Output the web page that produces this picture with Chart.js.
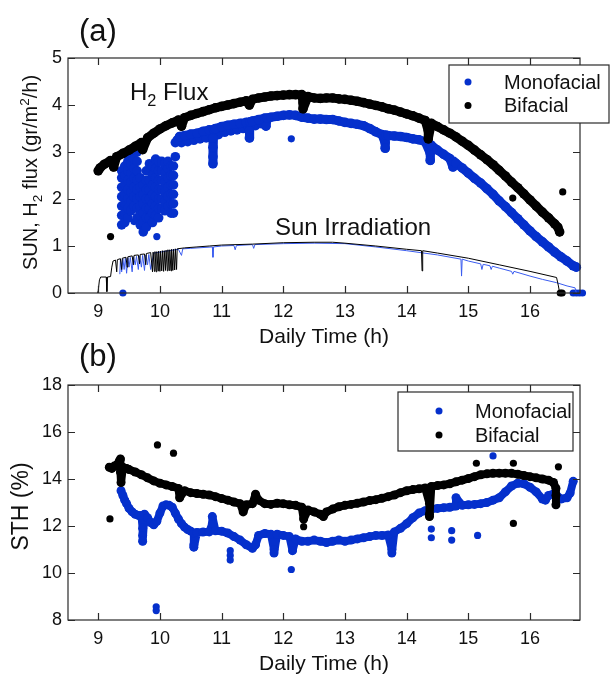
<!DOCTYPE html>
<html>
<head>
<meta charset="utf-8">
<script src="https://cdn.jsdelivr.net/npm/chart.js@4.4.1/dist/chart.umd.min.js"></script>
<style>
  html, body { margin: 0; padding: 0; background: #fff; }
  #wrap { position: relative; width: 611px; height: 675px; overflow: hidden; }
  canvas { position: absolute; left: 0; }
  #chartA { top: 0; }
  #chartB { top: 335px; }
</style>
</head>
<body>
<div id="wrap">
  <canvas id="chartA" width="611" height="350" style="width:611px;height:350px"></canvas>
  <canvas id="chartB" width="611" height="340" style="width:611px;height:340px"></canvas>
</div>
<script>
// ---- data ----
const hourTicks = [9, 10, 11, 12, 13, 14, 15, 16];
const fluxTicks = [0, 1, 2, 3, 4, 5];
const sthTicks = [8, 10, 12, 14, 16, 18];

// (a) monofacial H2 flux, noisy morning part: [hour, [values]]
const monoFluxMorning = [
  [9.38, [1.45, 1.65, 1.85, 2.05, 2.25, 2.45, 2.6]],
  [9.43, [1.5, 1.7, 1.9, 2.1, 2.3, 2.5, 2.7]],
  [9.48, [1.6, 1.8, 2.0, 2.2, 2.4, 2.6, 2.8, 2.95]],
  [9.53, [1.75, 1.95, 2.15, 2.35, 2.55, 2.75, 2.95]],
  [9.58, [1.85, 2.05, 2.25, 2.45, 2.65, 2.85, 3.05]],
  [9.63, [1.6, 1.8, 2.0, 2.2, 2.4, 2.6, 2.8, 3.0]],
  [9.68, [1.45, 1.65, 1.85, 2.05, 2.25, 2.45]],
  [9.73, [1.3, 1.5, 1.7, 1.9, 2.1, 2.3]],
  [9.78, [1.4, 1.6, 1.8, 2.0, 2.2, 2.4, 2.6]],
  [9.83, [1.6, 1.8, 2.0, 2.2, 2.4, 2.6, 2.75]],
  [9.88, [1.5, 1.7, 1.9, 2.1, 2.3, 2.5, 2.7]],
  [9.93, [1.65, 1.85, 2.05, 2.25, 2.45, 2.65, 2.85]],
  [9.98, [1.6, 1.8, 2.0, 2.2, 2.4, 2.6, 2.8]],
  [10.03, [1.8, 2.0, 2.2, 2.4, 2.6, 2.8]],
  [10.08, [1.75, 1.95, 2.15, 2.35, 2.55, 2.75]],
  [10.13, [1.85, 2.05, 2.25, 2.45, 2.65, 2.8]],
  [10.18, [1.7, 1.9, 2.1, 2.3, 2.5, 2.7]],
  [10.22, [1.7, 1.9, 2.1, 2.3, 2.5, 2.7]],
  [10.25, [2.9, 3.2]]
];

// (a) monofacial H2 flux, rest of the day [hour, value], dips kept in place
const monoFlux = [
  [10.28, 3.25], [10.32, 3.33], [10.4, 3.35], [10.5, 3.38], [10.6, 3.4], [10.7, 3.44],
  [10.8, 3.47], [10.86, 3.3], [10.86, 3.1], [10.86, 2.9], [10.86, 2.75], [10.87, 3.48],
  [10.9, 3.5], [11.0, 3.54], [11.1, 3.57], [11.2, 3.59], [11.3, 3.61], [11.4, 3.63],
  [11.45, 3.45], [11.45, 3.3], [11.46, 3.64], [11.5, 3.66], [11.6, 3.69], [11.7, 3.72],
  [11.72, 3.55], [11.74, 3.72], [11.8, 3.74], [11.9, 3.76], [12.0, 3.78], [12.1, 3.79],
  [12.2, 3.78], [12.3, 3.74], [12.4, 3.72], [12.5, 3.7], [12.6, 3.7], [12.7, 3.69],
  [12.8, 3.69], [12.9, 3.66], [13.0, 3.63], [13.1, 3.61], [13.2, 3.59], [13.3, 3.56],
  [13.4, 3.5], [13.5, 3.43], [13.6, 3.37], [13.65, 3.2], [13.65, 3.08], [13.66, 3.36],
  [13.7, 3.35], [13.8, 3.34], [13.9, 3.33], [14.0, 3.31], [14.1, 3.28], [14.2, 3.26],
  [14.3, 3.22], [14.38, 2.98], [14.38, 2.82], [14.39, 3.15], [14.4, 3.14], [14.5, 3.04],
  [14.6, 2.95], [14.7, 2.86], [14.75, 2.68], [14.76, 2.8], [14.8, 2.76], [14.9, 2.66],
  [15.0, 2.55], [15.1, 2.44], [15.2, 2.34], [15.3, 2.22], [15.4, 2.1], [15.5, 1.96],
  [15.6, 1.84], [15.7, 1.71], [15.8, 1.58], [15.9, 1.45], [16.0, 1.32], [16.1, 1.2],
  [16.2, 1.09], [16.3, 0.98], [16.4, 0.87], [16.5, 0.77], [16.6, 0.68], [16.7, 0.58],
  [16.75, 0.55]
];
// lower edge of the thick late-morning monofacial band
const monoFluxLower = [
  [10.35, 3.2], [10.45, 3.22], [10.55, 3.25], [10.65, 3.28], [10.75, 3.3], [10.95, 3.37],
  [11.05, 3.42], [11.15, 3.45], [11.25, 3.47], [11.35, 3.5], [11.55, 3.56], [11.65, 3.6]
];
const monoFluxOut = [[9.4, 0], [9.58, 1.52], [9.95, 1.2], [12.13, 3.28],
  [16.7, 0], [16.75, 0], [16.8, 0], [16.85, 0]];

// (a) bifacial H2 flux
const biFlux = [
  [9.0, 2.6], [9.03, 2.66], [9.1, 2.74], [9.2, 2.82], [9.25, 2.68], [9.3, 2.9], [9.4, 2.97],
  [9.5, 3.04], [9.6, 3.12], [9.7, 3.2], [9.72, 3.05], [9.8, 3.3], [9.9, 3.4], [10.0, 3.49],
  [10.1, 3.56], [10.2, 3.62], [10.3, 3.68], [10.35, 3.55], [10.4, 3.73], [10.5, 3.78],
  [10.6, 3.82], [10.7, 3.86], [10.8, 3.9], [10.9, 3.94], [11.0, 3.97], [11.1, 4.0],
  [11.2, 4.03], [11.3, 4.06], [11.4, 4.09], [11.45, 4.0], [11.5, 4.12], [11.6, 4.15],
  [11.7, 4.17], [11.8, 4.19], [11.9, 4.2], [12.0, 4.21], [12.1, 4.22], [12.2, 4.22],
  [12.3, 4.22], [12.32, 4.05], [12.32, 3.92], [12.4, 4.18], [12.5, 4.15], [12.6, 4.14],
  [12.7, 4.15], [12.8, 4.15], [12.9, 4.13], [13.0, 4.12], [13.1, 4.1], [13.2, 4.08],
  [13.3, 4.05], [13.4, 4.02], [13.5, 3.99], [13.6, 3.96], [13.7, 3.92], [13.8, 3.89],
  [13.9, 3.85], [14.0, 3.81], [14.1, 3.77], [14.2, 3.72], [14.3, 3.67], [14.35, 3.45],
  [14.35, 3.28], [14.4, 3.61], [14.5, 3.54], [14.6, 3.47], [14.7, 3.4], [14.8, 3.32],
  [14.9, 3.23], [15.0, 3.14], [15.1, 3.04], [15.2, 2.94], [15.3, 2.84], [15.4, 2.73],
  [15.5, 2.61], [15.6, 2.49], [15.7, 2.36], [15.8, 2.24], [15.9, 2.11], [16.0, 1.98],
  [16.1, 1.85], [16.2, 1.72], [16.3, 1.6], [16.4, 1.47], [16.45, 1.4], [16.48, 1.3]
];
const biFluxOut = [[9.2, 1.2], [15.72, 2.02], [16.53, 2.15], [16.49, 0], [16.52, 0]];

// (a) sun irradiation traces
const sunBi = [
  [8.99, 0], [9.0, 0.05], [9.02, 0.28], [9.04, 0.34], [9.13, 0.34], [9.14, 0.03], [9.15, 0.34],
  [9.2, 0.35], [9.22, 0.55], [9.24, 0.68], [9.28, 0.7], [9.3, 0.45], [9.31, 0.71], [9.36, 0.73],
  [9.38, 0.5], [9.39, 0.74], [9.45, 0.76], [9.47, 0.55], [9.48, 0.77], [9.55, 0.79], [9.57, 0.6],
  [9.58, 0.8], [9.65, 0.81], [9.67, 0.62], [9.68, 0.82], [9.75, 0.83], [9.77, 0.6], [9.78, 0.84],
  [9.85, 0.86], [9.88, 0.45], [9.89, 0.87], [9.91, 0.46], [9.92, 0.88], [9.94, 0.45], [9.95, 0.88],
  [9.97, 0.47], [9.98, 0.89], [10.0, 0.46], [10.01, 0.89], [10.03, 0.47], [10.04, 0.9],
  [10.06, 0.46], [10.07, 0.9], [10.09, 0.48], [10.1, 0.91], [10.12, 0.47], [10.13, 0.92],
  [10.15, 0.48], [10.16, 0.92], [10.18, 0.47], [10.19, 0.93], [10.21, 0.48], [10.22, 0.93],
  [10.24, 0.49], [10.25, 0.94], [10.27, 0.5], [10.28, 0.94], [10.4, 0.96], [10.6, 0.98],
  [10.8, 1.0], [11.0, 1.02], [11.5, 1.04], [12.0, 1.07], [12.5, 1.08], [12.8, 1.08],
  [13.0, 1.06], [13.5, 1.0], [14.0, 0.93], [14.24, 0.9], [14.25, 0.47], [14.26, 0.9],
  [14.5, 0.85], [15.0, 0.74], [15.5, 0.6], [16.0, 0.46], [16.43, 0.33], [16.46, 0.15], [16.48, 0]
];
const sunMono = [
  [9.35, 0.4], [9.36, 0.72], [9.38, 0.45], [9.4, 0.73], [9.42, 0.5], [9.44, 0.74], [9.46, 0.42],
  [9.48, 0.75], [9.5, 0.55], [9.52, 0.76], [9.55, 0.45], [9.57, 0.77], [9.6, 0.6], [9.62, 0.78],
  [9.65, 0.5], [9.67, 0.79], [9.7, 0.55], [9.72, 0.8], [9.75, 0.48], [9.77, 0.81], [9.8, 0.6],
  [9.82, 0.82], [9.85, 0.5], [9.9, 0.85], [10.3, 0.93], [10.35, 0.8], [10.37, 0.94], [10.5, 0.95],
  [10.85, 0.98], [10.86, 0.76], [10.87, 0.98], [11.0, 1.0], [11.2, 1.01], [11.22, 0.92],
  [11.24, 1.01], [11.5, 1.03], [11.52, 0.95], [11.54, 1.03], [12.0, 1.05], [12.5, 1.06],
  [13.0, 1.05], [13.5, 0.98], [14.0, 0.9], [14.5, 0.81], [14.88, 0.72], [14.89, 0.36],
  [14.9, 0.72], [15.0, 0.68], [15.2, 0.62], [15.22, 0.5], [15.24, 0.61], [15.35, 0.58],
  [15.37, 0.5], [15.39, 0.57], [15.5, 0.53], [15.7, 0.46], [15.72, 0.4], [15.74, 0.46],
  [16.0, 0.36], [16.2, 0.29], [16.43, 0.22], [16.6, 0.15], [16.73, 0.11], [16.75, 0]
];

// (b) solar-to-hydrogen efficiency
const biSth = [
  [9.18, 14.5], [9.22, 14.45], [9.26, 14.55], [9.3, 14.6], [9.34, 14.75], [9.36, 14.85],
  [9.36, 14.3], [9.37, 13.85], [9.4, 14.5], [9.46, 14.45], [9.5, 14.4], [9.6, 14.3],
  [9.7, 14.18], [9.8, 14.05], [9.9, 13.92], [10.0, 13.82], [10.1, 13.75], [10.2, 13.68],
  [10.3, 13.6], [10.32, 13.2], [10.4, 13.5], [10.5, 13.42], [10.6, 13.38], [10.7, 13.35],
  [10.8, 13.32], [10.9, 13.25], [11.0, 13.17], [11.1, 13.1], [11.2, 13.02], [11.3, 12.95],
  [11.35, 12.6], [11.4, 12.9], [11.5, 12.95], [11.55, 13.35], [11.6, 13.1], [11.7, 12.95],
  [11.8, 12.92], [11.9, 12.97], [12.0, 12.95], [12.1, 12.9], [12.2, 12.88], [12.3, 12.8],
  [12.33, 12.3], [12.4, 12.68], [12.5, 12.6], [12.6, 12.5], [12.65, 12.4], [12.7, 12.6],
  [12.8, 12.72], [12.9, 12.82], [13.0, 12.88], [13.1, 12.92], [13.2, 12.97], [13.3, 13.02],
  [13.4, 13.08], [13.5, 13.12], [13.6, 13.18], [13.7, 13.25], [13.8, 13.32], [13.9, 13.42],
  [14.0, 13.5], [14.1, 13.55], [14.2, 13.58], [14.3, 13.62], [14.37, 12.96], [14.37, 12.5],
  [14.37, 12.4], [14.4, 13.68], [14.5, 13.72], [14.6, 13.75], [14.7, 13.8], [14.8, 13.88],
  [14.9, 13.95], [15.0, 14.02], [15.1, 14.1], [15.2, 14.18], [15.3, 14.22], [15.4, 14.24],
  [15.5, 14.25], [15.6, 14.25], [15.7, 14.24], [15.8, 14.2], [15.9, 14.15], [16.0, 14.1],
  [16.1, 14.05], [16.2, 14.0], [16.3, 13.95], [16.38, 13.85], [16.42, 13.6], [16.42, 13.3],
  [16.42, 12.9]
];
const biSthOut = [[9.19, 12.3], [9.96, 15.45], [10.22, 15.1], [12.33, 11.97], [15.13, 14.67],
  [15.73, 14.67], [15.73, 12.11], [16.46, 14.52]];

const monoSth = [
  [9.37, 13.5], [9.4, 13.3], [9.43, 13.1], [9.46, 12.95], [9.5, 12.75], [9.55, 12.6],
  [9.6, 12.5], [9.65, 12.45], [9.7, 12.45], [9.72, 11.9], [9.72, 11.6], [9.72, 11.35],
  [9.75, 12.5], [9.8, 12.35], [9.85, 12.15], [9.9, 12.05], [9.95, 12.2], [10.0, 12.55],
  [10.05, 12.85], [10.1, 12.9], [10.15, 12.88], [10.2, 12.8], [10.25, 12.55], [10.3, 12.3],
  [10.35, 12.1], [10.4, 11.95], [10.45, 11.85], [10.5, 11.78], [10.55, 11.7], [10.55, 11.2],
  [10.55, 11.1], [10.6, 11.72], [10.7, 11.74], [10.8, 11.75], [10.85, 12.1], [10.85, 12.4],
  [10.9, 11.8], [11.0, 11.78], [11.1, 11.7], [11.2, 11.55], [11.3, 11.4], [11.4, 11.2],
  [11.5, 11.05], [11.55, 11.2], [11.6, 11.6], [11.7, 11.68], [11.8, 11.65], [11.85, 11.0],
  [11.85, 10.85], [11.9, 11.65], [12.0, 11.6], [12.1, 11.55], [12.15, 10.95], [12.2, 11.45],
  [12.3, 11.35], [12.4, 11.35], [12.5, 11.4], [12.6, 11.35], [12.7, 11.3], [12.8, 11.35],
  [12.9, 11.4], [13.0, 11.35], [13.1, 11.4], [13.2, 11.45], [13.3, 11.5], [13.4, 11.55],
  [13.5, 11.6], [13.6, 11.6], [13.7, 11.62], [13.76, 11.0], [13.76, 10.85], [13.8, 11.75],
  [13.9, 11.9], [14.0, 12.1], [14.1, 12.35], [14.2, 12.55], [14.3, 12.65], [14.4, 12.72],
  [14.5, 12.75], [14.6, 12.78], [14.7, 12.8], [14.8, 12.85], [14.8, 13.2], [14.9, 12.88],
  [15.0, 12.9], [15.1, 12.92], [15.2, 12.95], [15.3, 13.0], [15.4, 13.1], [15.5, 13.2],
  [15.6, 13.45], [15.7, 13.7], [15.8, 13.82], [15.9, 13.8], [16.0, 13.65], [16.1, 13.45],
  [16.2, 13.15], [16.25, 13.1], [16.3, 13.3], [16.4, 13.4], [16.5, 13.15], [16.6, 13.2],
  [16.65, 13.4], [16.7, 13.9]
];
const monoSthOut = [[9.94, 8.56], [9.94, 8.4], [11.14, 10.95], [11.14, 10.75], [11.14, 10.55],
  [12.13, 10.15], [14.4, 11.87], [14.4, 11.5], [14.73, 11.8], [14.73, 11.4], [15.15, 11.6],
  [15.4, 14.98]];

// ---- drawing ----
const FONT = '"Liberation Sans", Arial, Helvetica, sans-serif';
const BLUE = '#0530cc';
const BLUE_LINE = '#3a5cf0';
const INK = '#111111';

const toXY = arr => arr.map(([x, y]) => ({ x, y }));
const flatCols = cols => cols.flatMap(([x, ys]) => ys.map(y => ({ x, y })));

function dots(data, color, r) {
  return { data, backgroundColor: color, borderWidth: 0, pointRadius: r,
           pointHoverRadius: r, clip: false };
}
// dense run of markers: dots joined by a thick round-capped stroke
function band(data, color, w, r) {
  return { data, showLine: true, borderColor: color, borderWidth: w, borderCapStyle: 'round',
           borderJoinStyle: 'round', backgroundColor: color, pointBorderWidth: 0,
           pointRadius: r, pointHoverRadius: r, tension: 0, clip: false };
}
function trace(data, color) {
  return { data, showLine: true, borderColor: color, borderWidth: 1, pointRadius: 0,
           pointHoverRadius: 0, tension: 0, clip: false };
}

function drawRich(ctx, parts, x, y, size, align) {
  let total = 0;
  parts.forEach(([t, k]) => { ctx.font = (k ? size * 0.68 : size) + 'px ' + FONT; total += ctx.measureText(t).width; });
  let cx = align === 'center' ? x - total / 2 : x;
  parts.forEach(([t, k]) => {
    const fs = k ? size * 0.68 : size;
    const dy = k === 'sub' ? size * 0.26 : k === 'sup' ? -size * 0.4 : 0;
    ctx.font = fs + 'px ' + FONT;
    ctx.fillText(t, cx, y + dy);
    cx += ctx.measureText(t).width;
  });
}

// box with inward ticks on all four sides
const framePlugin = {
  id: 'frame',
  afterDatasetsDraw(chart) {
    const { ctx, chartArea: a, scales: { x, y } } = chart;
    ctx.save();
    ctx.strokeStyle = '#2a2a2a';
    ctx.lineWidth = 1.2;
    ctx.strokeRect(a.left, a.top, a.right - a.left, a.bottom - a.top);
    ctx.beginPath();
    x.ticks.forEach(t => {
      const p = Math.round(x.getPixelForValue(t.value)) + 0.5;
      ctx.moveTo(p, a.bottom); ctx.lineTo(p, a.bottom - 7);
      ctx.moveTo(p, a.top); ctx.lineTo(p, a.top + 7);
    });
    y.ticks.forEach(t => {
      const p = Math.round(y.getPixelForValue(t.value)) + 0.5;
      ctx.moveTo(a.left, p); ctx.lineTo(a.left + 7, p);
      ctx.moveTo(a.right, p); ctx.lineTo(a.right - 7, p);
    });
    ctx.stroke();
    ctx.restore();
  }
};

// text, titles and legend box
const textPlugin = {
  id: 'texts',
  afterDraw(chart, args, o) {
    const { ctx, chartArea: a } = chart;
    ctx.save();
    ctx.fillStyle = INK;
    ctx.textBaseline = 'alphabetic';
    // panel letter
    ctx.font = '31px ' + FONT;
    ctx.textAlign = 'left';
    ctx.fillText(o.letter, 79, o.letterY);
    // x title
    ctx.font = '21px ' + FONT;
    ctx.textAlign = 'center';
    ctx.fillText('Daily Time (h)', (a.left + a.right) / 2, a.bottom + 50);
    // y title
    ctx.textAlign = 'left';
    ctx.translate(o.yTitleX, (a.top + a.bottom) / 2 + o.yTitleDy);
    ctx.rotate(-Math.PI / 2);
    drawRich(ctx, o.yTitle, 0, 0, o.yTitleSize, 'center');
    ctx.setTransform(1, 0, 0, 1, 0, 0);
    // annotations
    (o.notes || []).forEach(n => drawRich(ctx, n.parts, n.x, n.y, n.size, 'left'));
    // legend
    const L = o.legend;
    ctx.fillStyle = '#fff';
    ctx.fillRect(L.x, L.y, L.w, L.h);
    ctx.strokeStyle = '#2a2a2a';
    ctx.lineWidth = 1.2;
    ctx.strokeRect(L.x, L.y, L.w, L.h);
    [['Monofacial', BLUE], ['Bifacial', '#000']].forEach(([label, col], i) => {
      const cy = L.y + L.row0 + i * L.step;
      ctx.fillStyle = col;
      ctx.beginPath();
      ctx.arc(L.x + L.dotDx, cy, 3.5, 0, Math.PI * 2);
      ctx.fill();
      ctx.fillStyle = INK;
      ctx.font = '20px ' + FONT;
      ctx.textBaseline = 'middle';
      ctx.fillText(label, L.x + L.textDx, cy + 1);
    });
    ctx.restore();
  }
};

function makeChart(id, datasets, yMin, yMax, yTicks, geom, texts) {
  const canvas = document.getElementById(id);
  return new Chart(canvas, {
    type: 'scatter',
    data: { datasets },
    plugins: [framePlugin, textPlugin],
    options: {
      responsive: false,
      animation: false,
      events: [],
      layout: { padding: { top: geom.top, right: geom.right, left: 0, bottom: 0 } },
      plugins: { legend: { display: false }, tooltip: { enabled: false }, texts },
      scales: {
        x: {
          type: 'linear', min: 8.51, max: 16.81,
          grid: { display: false, drawTicks: false }, border: { display: false },
          ticks: { font: { family: FONT, size: 18 }, color: INK, padding: 8 },
          afterBuildTicks: s => { s.ticks = hourTicks.map(v => ({ value: v })); },
          afterFit: s => { s.height = geom.xHeight; }
        },
        y: {
          type: 'linear', min: yMin, max: yMax,
          grid: { display: false, drawTicks: false }, border: { display: false },
          ticks: { font: { family: FONT, size: 18 }, color: INK, padding: 6 },
          afterBuildTicks: s => { s.ticks = yTicks.map(v => ({ value: v })); },
          afterFit: s => { s.width = 68; }
        }
      }
    }
  });
}

makeChart('chartA', [
  trace(toXY(sunBi), '#000'),
  trace(toXY(sunMono), BLUE_LINE),
  band(toXY(biFlux), '#000', 9, 4.8),
  dots(toXY(biFluxOut), '#000', 3.6),
  band(toXY(monoFlux), BLUE, 9, 4.8),
  dots(toXY(monoFluxLower), BLUE, 4.8),
  dots(flatCols(monoFluxMorning), BLUE, 4.8),
  dots(toXY(monoFluxOut), BLUE, 3.6)
], 0, 5, fluxTicks, { top: 58, right: 31, xHeight: 57 }, {
  letter: '(a)', letterY: 41,
  yTitleX: 37, yTitleDy: -3, yTitleSize: 20,
  yTitle: [['SUN, H'], ['2', 'sub'], [' flux (gr/m'], ['2', 'sup'], ['/h)']],
  notes: [
    { parts: [['H'], ['2', 'sub'], [' Flux']], x: 130, y: 100, size: 24 },
    { parts: [['Sun Irradiation']], x: 275, y: 235, size: 24 }
  ],
  legend: { x: 449, y: 65, w: 160, h: 58, row0: 17, step: 23.5, dotDx: 19, textDx: 55 }
});

makeChart('chartB', [
  band(toXY(biSth), '#000', 8, 4.5),
  dots(toXY(biSthOut), '#000', 3.6),
  band(toXY(monoSth), BLUE, 8, 4.5),
  dots(toXY(monoSthOut), BLUE, 3.6)
], 8, 18, sthTicks, { top: 50, right: 31, xHeight: 55 }, {
  letter: '(b)', letterY: 31,
  yTitleX: 28, yTitleDy: 4, yTitleSize: 23,
  yTitle: [['STH (%)']],
  legend: { x: 398, y: 57, w: 175, h: 59, row0: 19, step: 24, dotDx: 41, textDx: 77 }
});
</script>
</body>
</html>
